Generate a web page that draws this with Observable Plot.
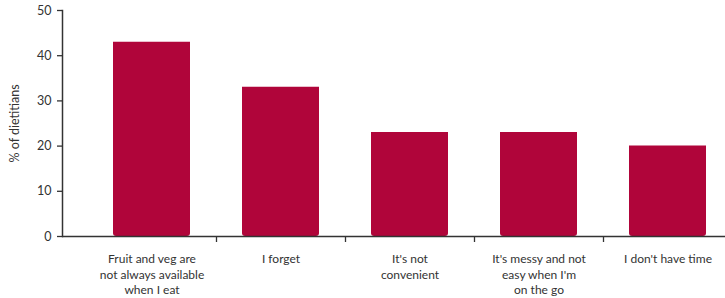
<!DOCTYPE html>
<html>
<head>
<meta charset="utf-8">
<script src="https://cdn.jsdelivr.net/npm/d3@7"></script>
<script src="https://cdn.jsdelivr.net/npm/@observablehq/plot@0.6"></script>
<style>
  html, body { margin: 0; padding: 0; background: #fff; }
  #chart svg { display: block; }
</style>
</head>
<body>
<div id="chart"></div>
<script>
const categories = [
  "Fruit and veg are\nnot always available\nwhen I eat",
  "I forget",
  "It's not\nconvenient",
  "It's messy and not\neasy when I'm\non the go",
  "I don't have time"
];
const values = [43, 33, 23, 23, 20];
const yTicks = [0, 10, 20, 30, 40, 50];

const data = categories.map((c, i) => ({category: c, value: values[i]}));
const xRange = [87, 732];
const step = (xRange[1] - xRange[0]) / categories.length;
const ink = "#333";

const chart = Plot.plot({
  width: 725,
  height: 298,
  marginTop: 10,
  marginLeft: 62,
  marginRight: 0,
  marginBottom: 62,
  style: {fontFamily: "Lato, sans-serif", fontSize: "12px", color: ink, background: "#fff"},
  x: {domain: categories, range: xRange, paddingInner: 0.4, paddingOuter: 0.2},
  y: {domain: [0, 50], ticks: yTicks},
  marks: [
    Plot.barY(data, {x: "category", y: "value", fill: "#b0053a", ry2: 3}),
    Plot.axisY({ticks: yTicks, tickSize: 5, tickPadding: 6, stroke: ink, strokeWidth: 1.3, fontSize: 12.5,
      label: "% of dietitians", labelAnchor: "center", labelArrow: "none", labelOffset: 52}),
    Plot.axisX({tickSize: 0, tickPadding: 15, lineHeight: 1.32, fontSize: 12, label: null}),
    Plot.axisX({ticks: categories.slice(0, 4), tickSize: 6, dx: step / 2, text: null, stroke: ink, strokeWidth: 1.3, label: null}),
    Plot.frame({anchor: "left", stroke: ink, strokeWidth: 1.5}),
    Plot.ruleY([0], {stroke: ink, strokeWidth: 1.5})
  ]
});
document.getElementById("chart").appendChild(chart);
</script>
</body>
</html>
